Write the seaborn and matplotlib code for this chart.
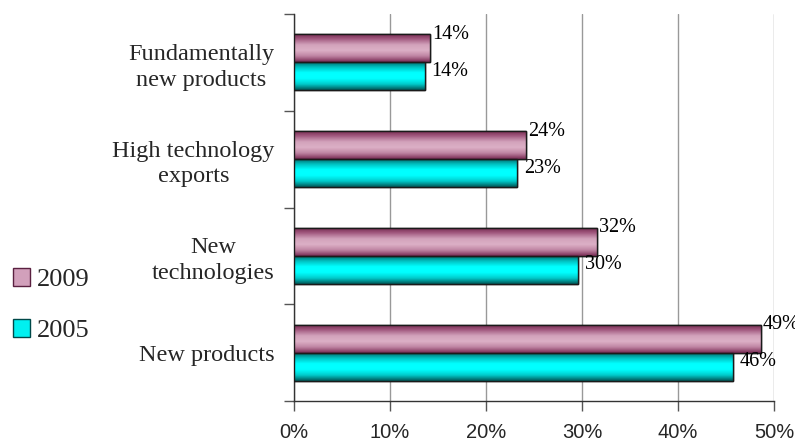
import numpy as np
import pandas as pd
import matplotlib
matplotlib.use("Agg")
import matplotlib.pyplot as plt
import seaborn as sns
from matplotlib.colors import LinearSegmentedColormap
from matplotlib.patches import Patch

categories = ["Fundamentally\nnew products", "High technology\nexports",
              "New\ntechnologies", "New products"]
years = ["2009", "2005"]
values_2009 = [14.2, 24.2, 31.6, 48.6]
values_2005 = [13.6, 23.2, 29.6, 45.7]
labels_2009 = ["14%", "24%", "32%", "49%"]
labels_2005 = ["14%", "23%", "30%", "46%"]
xticks = [0, 10, 20, 30, 40, 50]
xticklabels = ["0%", "10%", "20%", "30%", "40%", "50%"]

df = pd.DataFrame({
    "category": categories * 2,
    "year": ["2009"] * 4 + ["2005"] * 4,
    "value": values_2009 + values_2005,
})

sns.set_style("white")
serif = ["Liberation Serif", "DejaVu Serif"]
sans = ["Liberation Sans", "DejaVu Sans"]

fig = plt.figure(figsize=(7.95, 4.43), dpi=100)
ax = fig.add_axes([0.3698, 0.0948, 0.6038, 0.8736])

palette = {"2009": "#c98fae", "2005": "#00e8e8"}
sns.barplot(data=df, x="value", y="category", hue="year", hue_order=years,
            order=categories, orient="h", palette=palette, width=0.58,
            gap=0, edgecolor="black", linewidth=1.0, legend=False, ax=ax,
            zorder=3)

cmaps = {
    "2009": LinearSegmentedColormap.from_list(
        "pink", ["#6e2248", "#a45c82", "#d2a2bb", "#dcb0c6", "#bf84a3", "#7a2c55"]),
    "2005": LinearSegmentedColormap.from_list(
        "cyan", ["#005c5c", "#00c0c0", "#00ffff", "#00ffff", "#00cccc", "#005858"]),
}
grad = np.linspace(0, 1, 64).reshape(-1, 1)
offsets = {"2009": (2, 14), "2005": (7, 5)}

for cont, yr, labs in zip(ax.containers, years, [labels_2009, labels_2005]):
    for patch, lab in zip(cont.patches, labs):
        x0, y0 = patch.get_x(), patch.get_y()
        w, h = patch.get_width(), patch.get_height()
        im = ax.imshow(grad, extent=[x0, x0 + w, y0 + h, y0], origin="upper",
                       aspect="auto", cmap=cmaps[yr], zorder=3.5,
                       interpolation="bilinear")
        im.set_clip_path(patch)
        edge = plt.Rectangle((x0, y0), w, h, fill=False, edgecolor="#1a1a1a",
                             linewidth=1.0, zorder=4)
        ax.add_patch(edge)
        dx, dy = offsets[yr]
        ax.annotate(lab, (x0 + w, y0 + h / 2), xytext=(dx, dy),
                    textcoords="offset pixels",
                    ha="left", va="center", fontsize=14.5, family=serif,
                    color="black", zorder=5, annotation_clip=False)

ax.set_xlim(0, 50)
ax.set_ylim(3.5, -0.5)
ax.set_xticks(xticks)
ax.set_xticklabels(xticklabels, fontsize=14.5, family=sans)
ax.set_yticks(range(len(categories)))
ax.set_yticklabels(categories, fontsize=17.5, family=serif,
                   multialignment="center", linespacing=1.3)
ax.set_yticks(np.arange(-0.5, 4.0, 1.0), minor=True)
ax.tick_params(axis="y", which="major", left=False, length=0, pad=14)
ax.tick_params(axis="y", which="minor", left=True, length=7, width=1,
               color="#555555", direction="out")
ax.tick_params(axis="x", which="major", bottom=True, length=7, width=1,
               color="#555555", direction="out", pad=9)
ax.set_xlabel("")
ax.set_ylabel("")
ax.grid(axis="x", color="#999999", linewidth=1, zorder=0)
ax.set_axisbelow(True)
for s in ["top", "right"]:
    ax.spines[s].set_visible(False)
for s in ["left", "bottom"]:
    ax.spines[s].set_color("#333333")
    ax.spines[s].set_linewidth(1)

handles = [Patch(facecolor="#d2a0bb", edgecolor="#5a2040", label="2009"),
           Patch(facecolor="#00f0f0", edgecolor="#004848", label="2005")]
fig.legend(handles=handles, loc="center left", bbox_to_anchor=(0.0, 0.311),
           frameon=False, prop={"family": serif, "size": 19},
           handlelength=0.65, handleheight=0.65, handletextpad=0.25,
           labelspacing=1.05, borderaxespad=0.2, borderpad=0.3)

fig.savefig("out.png", dpi=100)
